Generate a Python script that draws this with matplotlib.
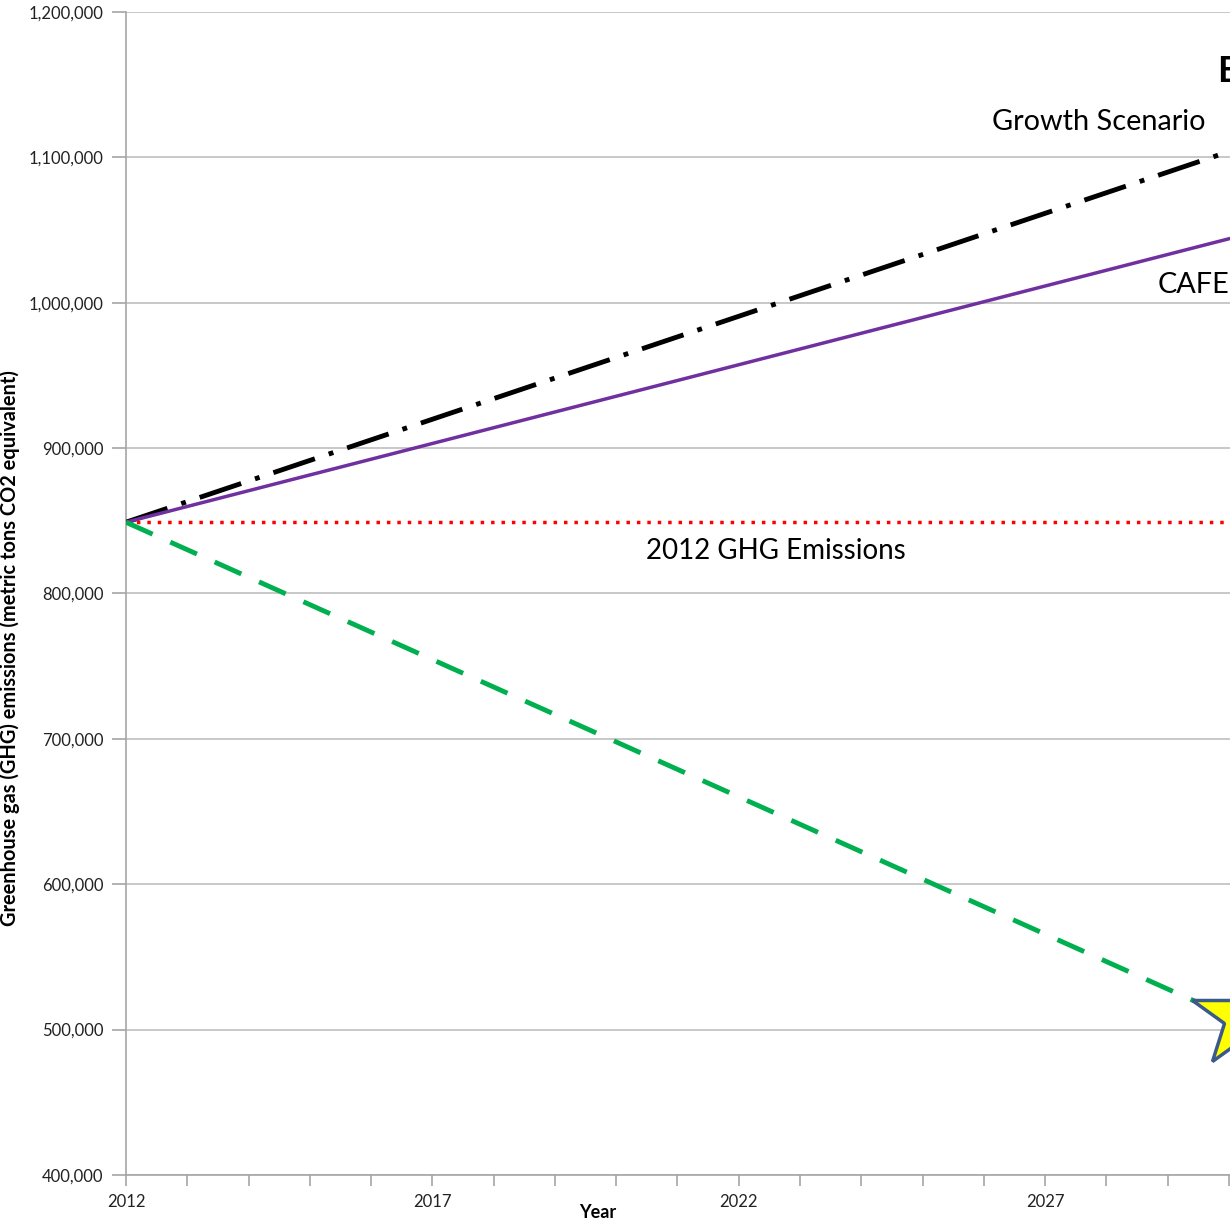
import matplotlib.pyplot as plt
from matplotlib.ticker import FuncFormatter, MultipleLocator, FixedLocator

plt.rcParams['font.family'] = ['Lato', 'DejaVu Sans']

years = [2012, 2030]
growth = [849000, 1104000]
cafe = [849000, 1044000]
baseline = [849000, 849000]
target = [849000, 509000]
target_year = 2030.25
target_value = 509000
year_ticks = [2012, 2017, 2022, 2027, 2032]

fig = plt.figure(figsize=(12.3, 12.21), dpi=100)
# axes run past the right edge of the figure
ax = fig.add_axes([0.1024, 0.0377, 1.049 - 0.1024, 0.9525])

ax.plot(years, growth, color='black', lw=3.5, dashes=(9, 3, 1, 3), zorder=3)
ax.plot(years, cafe, color='#7030A0', lw=2.5, zorder=3)
ax.plot(years, baseline, color='#FF0000', lw=2.5, linestyle=(0, (1, 2)), zorder=3)
ax.plot(years, target, color='#00B050', lw=3.5, dashes=(6, 4), zorder=3)
ax.plot(target_year, target_value, marker='*', markersize=78, color='#FFFF00',
        markeredgecolor='#3B5A8A', markeredgewidth=2.5, zorder=4, clip_on=False)

ax.text(2027.87, 1124000, 'Growth Scenario', fontsize=20.8, ha='center', va='center')
ax.text(2030, 1012000, 'CAFE', fontsize=20.8, ha='right', va='center')
ax.text(2022.6, 829000, '2012 GHG Emissions', fontsize=20, ha='center', va='center')
ax.text(2029.8, 1159000, 'Emissions', fontsize=26, fontweight='bold', ha='left', va='center')

ax.set_xlim(2012, 2031)
ax.set_ylim(400000, 1200000)
ax.xaxis.set_major_locator(FixedLocator(year_ticks))
ax.xaxis.set_minor_locator(MultipleLocator(1))
ax.yaxis.set_major_locator(MultipleLocator(100000))
ax.yaxis.set_major_formatter(FuncFormatter(lambda v, p: f'{int(v):,}'))
ax.grid(axis='y', color='#BFBFBF', lw=1.2)
ax.set_axisbelow(True)

for s in ['top', 'right']:
    ax.spines[s].set_visible(False)
for s in ['left', 'bottom']:
    ax.spines[s].set_color('#A6A6A6')
    ax.spines[s].set_linewidth(1.2)
ax.tick_params(axis='both', which='both', color='#A6A6A6', width=1.2, labelsize=12,
               labelcolor='#222222')
ax.tick_params(axis='y', length=10, pad=6)
ax.tick_params(axis='x', which='major', length=8, pad=6)
ax.tick_params(axis='x', which='minor', length=8)

ax.set_xlabel('Year', fontsize=13, fontweight='bold', va='center')
ax.xaxis.set_label_coords(0.4054, -0.0327)
ax.set_ylabel('Greenhouse gas (GHG) emissions (metric tons CO2 equivalent)',
              fontsize=14.4, fontweight='bold', va='center')
ax.yaxis.set_label_coords(-0.0995, 0.453)

fig.savefig('out.png', dpi=100)
